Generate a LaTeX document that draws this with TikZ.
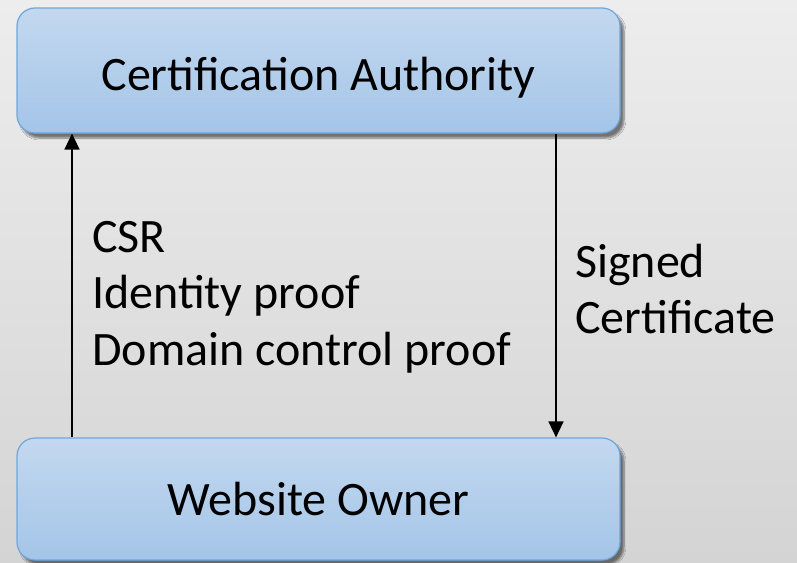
\documentclass[tikz,border=0pt]{standalone}
\usepackage{fontspec}
\setmainfont{Carlito}
\usetikzlibrary{positioning,arrows.meta,shadows.blur}
\definecolor{bgtop}{HTML}{EDEDED}
\definecolor{bgbottom}{HTML}{D4D4D4}
\definecolor{boxtop}{HTML}{C3D8EF}
\definecolor{boxbottom}{HTML}{A4C5E8}
\definecolor{boxedge}{HTML}{6FA7DC}

\begin{document}
\begin{tikzpicture}[x=1pt,y=-1pt]
\tikzstyle{party}=[rectangle, rounded corners=18pt, draw=boxedge, line width=1.2pt, top color=boxtop, bottom color=boxbottom, minimum width=603pt, minimum height=125pt, text depth=0pt, font=\fontsize{48}{56}\selectfont, blur shadow={shadow xshift=4pt, shadow yshift=-5pt, shadow blur steps=6, shadow opacity=50}]
\tikzstyle{connect}=[-{Triangle[length=16pt,width=15pt]}, line width=1.5pt]
\tikzstyle{note}=[anchor=base west, inner sep=0pt, font=\fontsize{48}{56}\selectfont]
  % background
  \shade[top color=bgtop, bottom color=bgbottom] (0,0) rectangle (797,562);
  \node[party, text height=39pt] (ca) at (318.5,70.5) {Certification Authority};
  \node[party, text height=32pt, minimum height=122pt] (owner) at (318.5,499) {Website Owner};
  \coordinate (up) at (72,0);
  \coordinate (down) at (556,0);
  \draw[connect] (owner.north -| up) -- (ca.south -| up);
  \draw[connect] (ca.south -| down) -- (owner.north -| down);
  \node[note] (csr) at (92,252) {CSR};
  \node[note] (idproof) at (92,308) {Identity proof};
  \node[note] (domproof) at (92,365) {Domain control proof};
  \node[note] (signed) at (575,277) {Signed};
  \node[note] (cert) at (575,333) {Certificate};
\end{tikzpicture}
\end{document}
